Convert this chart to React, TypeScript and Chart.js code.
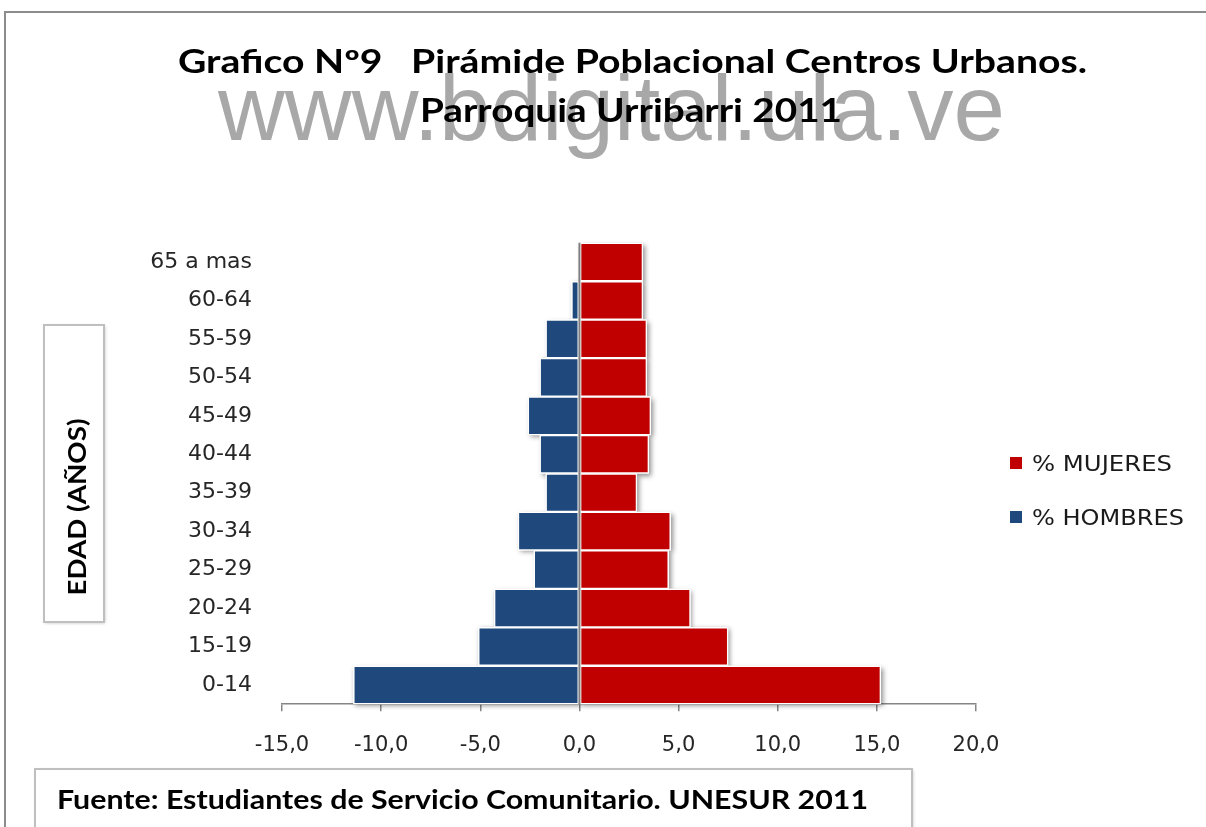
import React, { useEffect, useRef } from 'react';
import { Chart, registerables } from 'chart.js';

Chart.register(...registerables);

const categories = ['65 a mas', '60-64', '55-59', '50-54', '45-49', '40-44', '35-39', '30-34', '25-29', '20-24', '15-19', '0-14'];
const mujeres = [3.2, 3.2, 3.4, 3.4, 3.6, 3.5, 2.9, 4.6, 4.5, 5.6, 7.5, 15.2];
const hombres = [0, -0.4, -1.7, -2.0, -2.6, -2.0, -1.7, -3.1, -2.3, -4.3, -5.1, -11.4];
const seriesLabels = ['% MUJERES', '% HOMBRES'];
const seriesColors = ['#C00000', '#1F497D'];
const xMin = -15;
const xMax = 20;
const xStep = 5;
const titleLines = ['Grafico Nº9   Pirámide Poblacional Centros Urbanos.', 'Parroquia Urribarri 2011'];
const watermark = 'www.bdigital.ula.ve';
const yAxisTitle = 'EDAD (AÑOS)';
const sourceNote = 'Fuente: Estudiantes de Servicio Comunitario. UNESUR 2011';

function fitText(
  ctx: CanvasRenderingContext2D,
  text: string,
  x: number,
  y: number,
  width: number,
  font: string,
  color: string,
  align: 'left' | 'center'
) {
  ctx.save();
  ctx.font = font;
  ctx.fillStyle = color;
  ctx.textBaseline = 'alphabetic';
  ctx.textAlign = 'left';
  const w = ctx.measureText(text).width;
  const s = width / w;
  const left = align === 'center' ? x - width / 2 : x;
  ctx.translate(left, y);
  ctx.scale(s, 1);
  ctx.fillText(text, 0, 0);
  ctx.restore();
}

const decorPlugin = {
  id: 'decor',
  beforeDraw(chart: any) {
    const ctx: CanvasRenderingContext2D = chart.ctx;
    ctx.save();
    ctx.fillStyle = '#ffffff';
    ctx.fillRect(0, 0, chart.width, chart.height);
    ctx.strokeStyle = '#8c8c8c';
    ctx.lineWidth = 2;
    ctx.beginPath();
    ctx.moveTo(5, chart.height + 2);
    ctx.lineTo(5, 12);
    ctx.lineTo(chart.width + 2, 12);
    ctx.stroke();
    ctx.restore();

    fitText(ctx, watermark, 611.5, 140, 787, '92px "Liberation Sans"', '#a8a8a8', 'center');
    fitText(ctx, titleLines[0], 632.5, 73, 909, 'bold 32px Lato', '#000000', 'center');
    fitText(ctx, titleLines[1], 631, 122, 422, 'bold 32px Lato', '#000000', 'center');

    ctx.save();
    ctx.shadowColor = 'rgba(0,0,0,0.25)';
    ctx.shadowBlur = 3;
    ctx.shadowOffsetX = 1;
    ctx.shadowOffsetY = 1;
    ctx.fillStyle = '#ffffff';
    ctx.fillRect(44, 325, 60, 297);
    ctx.restore();
    ctx.save();
    ctx.strokeStyle = '#bfbfbf';
    ctx.lineWidth = 2;
    ctx.strokeRect(44, 325, 60, 297);
    ctx.translate(86, 507);
    ctx.rotate(-Math.PI / 2);
    fitText(ctx, yAxisTitle, 0, 0, 177, 'bold 24px Lato', '#000000', 'center');
    ctx.restore();

    ctx.save();
    ctx.shadowColor = 'rgba(0,0,0,0.25)';
    ctx.shadowBlur = 3;
    ctx.shadowOffsetX = 1;
    ctx.shadowOffsetY = 1;
    ctx.fillStyle = '#ffffff';
    ctx.fillRect(35, 769, 877, 80);
    ctx.restore();
    ctx.save();
    ctx.strokeStyle = '#bfbfbf';
    ctx.lineWidth = 2;
    ctx.strokeRect(35, 769, 877, 80);
    ctx.restore();
    fitText(ctx, sourceNote, 57, 809, 811, 'bold 26px Lato', '#000000', 'left');
  },
  beforeDatasetsDraw(chart: any) {
    const ctx: CanvasRenderingContext2D = chart.ctx;
    chart.data.datasets.forEach((_ds: any, i: number) => {
      const meta = chart.getDatasetMeta(i);
      meta.data.forEach((el: any) => {
        const p = el.getProps(['x', 'y', 'base', 'height'], true);
        const l = Math.min(p.x, p.base);
        const r = Math.max(p.x, p.base);
        if (r - l < 1) return;
        ctx.save();
        ctx.shadowColor = 'rgba(0,0,0,0.45)';
        ctx.shadowBlur = 5;
        ctx.shadowOffsetX = 2;
        ctx.shadowOffsetY = 2;
        ctx.fillStyle = '#ffffff';
        ctx.fillRect(l, p.y - p.height / 2, r - l, p.height);
        ctx.restore();
      });
    });
  },
  afterDatasetsDraw(chart: any) {
    const ctx: CanvasRenderingContext2D = chart.ctx;
    const x0 = chart.scales.x.getPixelForValue(0);
    ctx.save();
    ctx.strokeStyle = '#7f7f7f';
    ctx.lineWidth = 2;
    ctx.beginPath();
    ctx.moveTo(x0, chart.chartArea.top);
    ctx.lineTo(x0, chart.chartArea.bottom);
    ctx.stroke();
    ctx.restore();
  },
  afterDraw(chart: any) {
    const ctx: CanvasRenderingContext2D = chart.ctx;
    const ys = [463, 517];
    const widths = [140, 152];
    chart.data.datasets.forEach((ds: any, i: number) => {
      ctx.save();
      ctx.fillStyle = ds.backgroundColor;
      ctx.fillRect(1010, ys[i] - 6, 12, 12);
      ctx.restore();
      fitText(ctx, ds.label, 1032, ys[i] + 8, widths[i], '21px "DejaVu Sans"', '#1a1a1a', 'left');
    });
  },
};

export default function App() {
  const ref = useRef<HTMLCanvasElement>(null);

  useEffect(() => {
    if (!ref.current) return;
    const chart = new Chart(ref.current, {
      type: 'bar',
      data: {
        labels: categories,
        datasets: [
          {
            label: seriesLabels[0],
            data: mujeres,
            backgroundColor: seriesColors[0],
            borderColor: '#ffffff',
            borderWidth: 1.5,
            borderSkipped: false,
            barPercentage: 1,
            categoryPercentage: 1,
          },
          {
            label: seriesLabels[1],
            data: hombres,
            backgroundColor: seriesColors[1],
            borderColor: '#ffffff',
            borderWidth: 1.5,
            borderSkipped: false,
            barPercentage: 1,
            categoryPercentage: 1,
          },
        ],
      },
      options: {
        indexAxis: 'y',
        animation: false,
        responsive: false,
        maintainAspectRatio: false,
        devicePixelRatio: 1,
        layout: { padding: { top: 242.8, right: 230, bottom: 0, left: 0 } },
        plugins: {
          legend: { display: false },
          title: { display: false },
          tooltip: { enabled: false },
        },
        scales: {
          x: {
            type: 'linear',
            min: xMin,
            max: xMax,
            stacked: true,
            ticks: {
              stepSize: xStep,
              callback: (v: any) => Number(v).toFixed(1).replace('.', ','),
              font: { family: '"DejaVu Sans"', size: 21 },
              color: '#262626',
              padding: 22,
              maxRotation: 0,
            },
            grid: { drawOnChartArea: false, drawTicks: true, tickLength: 7, color: '#868686', lineWidth: 1.5 },
            border: { display: true, color: '#868686', width: 1.5 },
            afterFit: (s: any) => {
              s.height = 122.8;
            },
          },
          y: {
            type: 'category',
            stacked: true,
            ticks: {
              font: { family: '"DejaVu Sans"', size: 22 },
              color: '#262626',
              padding: 30,
            },
            grid: { display: false, drawTicks: false },
            border: { display: false },
            afterFit: (s: any) => {
              s.width = 282;
            },
          },
        },
      },
      plugins: [decorPlugin],
    } as any);
    return () => chart.destroy();
  }, []);

  return (
    <div style={{ position: 'fixed', left: 0, top: 0, width: 1206, height: 827, background: '#fff' }}>
      <canvas ref={ref} width={1206} height={827} style={{ width: 1206, height: 827, display: 'block' }} />
    </div>
  );
}
